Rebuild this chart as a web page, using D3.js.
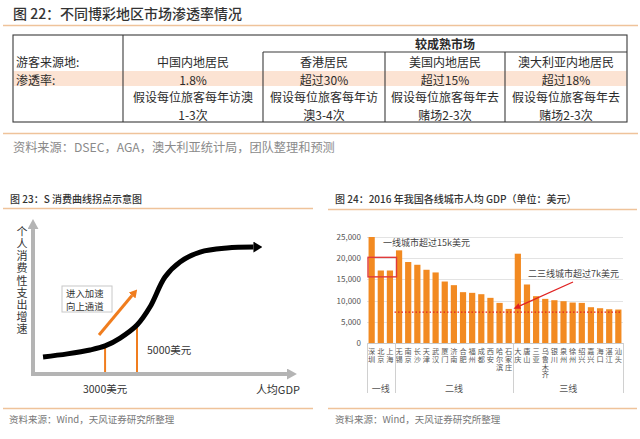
<!DOCTYPE html>
<html><head><meta charset="utf-8">
<script src="https://cdn.jsdelivr.net/npm/d3@7"></script>
<style>
html,body{margin:0;padding:0;background:#fff;}
svg text{font-family:"Noto Sans CJK SC","Noto Sans",sans-serif;}
.vt{writing-mode:vertical-rl;text-orientation:upright;}
</style></head>
<body><svg id="c" width="640" height="439"></svg>
<script>
// ---------- DATA ----------
const table1Title = "图 22：不同博彩地区市场渗透率情况";
const table1Group = "较成熟市场";
const rowLabels = ["游客来源地:", "渗透率:"];
const regions = ["中国内地居民", "香港居民", "美国内地居民", "澳大利亚内地居民"];
const penetration = ["1.8%", "超过30%", "超过15%", "超过18%"];
const notesLine1 = ["假设每位旅客每年访澳", "假设每位旅客每年访", "假设每位旅客每年去", "假设每位旅客每年去"];
const notesLine2 = ["1-3次", "澳3-4次", "赌场2-3次", "赌场2-3次"];
const table1Source = "资料来源：DSEC，AGA，澳大利亚统计局，团队整理和预测";

const fig23Title = "图 23：S 消费曲线拐点示意图";
const fig23YLabel = "个人消费性支出增速";
const fig23XLabel = "人均GDP";
// S-curve in schematic units (x: 0..10 income, y: 0..10 growth)
const sCurveX = [0.38, 1.30, 2.16, 2.73, 3.30, 3.94, 4.43, 5.00, 5.57, 6.33, 7.35, 8.35];
const sCurveY = [1.10, 1.30, 1.55, 1.81, 2.32, 3.16, 4.32, 6.26, 7.23, 7.87, 8.13, 8.19];
const thresholdX = [2.73, 3.94];            // 3000美元, 5000美元
const thresholdLabels = ["3000美元", "5000美元"];
const accelArrow = {x: [2.5, 3.94], y: [2.52, 5.45]};
const accelText = ["进入加速", "向上通道"];
const fig23Source = "资料来源：Wind，天风证券研究所整理";

const fig24Title = "图 24：2016 年我国各线城市人均 GDP（单位：美元）";
const cities = ["深圳","北京","上海",
  "无锡","南京","长沙","天津","武汉","厦门","济南","合肥","福州","成都","西安","哈尔滨","石家庄",
  "大庆","唐山","三亚","乌鲁木齐","银川","泉州","徐州","绍兴","嘉兴","海口","湛江","汕头"];
const gdpUSD = [25000,17100,17100,
  21850,19100,18450,17270,16640,14500,13640,11990,11830,11510,10650,9460,8040,
  21060,13800,11040,10410,10090,9860,9540,9460,8440,8200,7960,7890];
const tiers = ["一线","二线","三线"];
const tierCounts = [3, 13, 12];
const yTicks = [0, 5000, 10000, 15000, 20000, 25000];
const threshold23 = 7300;
const box1Range = [15600, 20200];
const note1 = "一线城市超过15k美元";
const note2 = "二三线城市超过7k美元";
const fig24Source = "资料来源：Wind，天风证券研究所整理";

// ---------- DRAW ----------
const svg = d3.select("#c");
const ORANGE_RULE = "#efc39a";
const TXT = "#2b2b2b";

// ===== Table (fig 22) =====
svg.append("text").attr("x", 13).attr("y", 13).attr("dominant-baseline","central")
  .attr("font-size", 14).attr("fill", "#333").attr("font-weight", 500).text(table1Title);
svg.append("line").attr("x1",3).attr("x2",638).attr("y1",25.5).attr("y2",25.5)
  .attr("stroke",ORANGE_RULE).attr("stroke-width",1.6);

const colEdges = [13, 123, 263, 385, 505, 627];
const tTop = 35, tGroup = 52, tPinkTop = 71, tPinkBot = 86, tBot = 122;
svg.append("rect").attr("x", colEdges[0]+0.5).attr("y", tPinkTop).attr("width", colEdges[5]-colEdges[0]-1)
  .attr("height", tPinkBot - tPinkTop).attr("fill", "#fce3d3");
const tg = svg.append("g").attr("stroke", "#3a3a3a").attr("stroke-width", 1.1);
tg.append("rect").attr("x", colEdges[0]).attr("y", tTop).attr("width", colEdges[5]-colEdges[0])
  .attr("height", tBot - tTop).attr("fill", "none");
tg.append("line").attr("x1", colEdges[1]).attr("x2", colEdges[1]).attr("y1", tTop).attr("y2", tBot);
[2,3,4].forEach(i => tg.append("line").attr("x1", colEdges[i]).attr("x2", colEdges[i]).attr("y1", tGroup).attr("y2", tBot));
tg.append("line").attr("x1", colEdges[2]).attr("x2", colEdges[5]).attr("y1", tGroup).attr("y2", tGroup);

const tfs = 12;
svg.append("text").attr("x", (colEdges[2]+colEdges[5])/2).attr("y", 43.5).attr("text-anchor","middle")
  .attr("dominant-baseline","central").attr("font-size", tfs).attr("font-weight", 700).attr("fill", TXT).text(table1Group);
const rowYs = [61.5, 79, 96.5, 114.5];
const leftCol = svg.append("text").attr("font-size", tfs).attr("fill", TXT);
rowLabels.forEach((t, k) => leftCol.append("tspan").attr("x", 16).attr("y", rowYs[k])
  .attr("dominant-baseline","central").text(t));
const colCenters = regions.map((d,i) => (colEdges[i+1] + colEdges[i+2]) / 2);
regions.forEach((r, i) => {
  const t = svg.append("text").attr("font-size", tfs).attr("fill", TXT).attr("text-anchor", "middle");
  [regions[i], penetration[i], notesLine1[i], notesLine2[i]].forEach((s, k) =>
    t.append("tspan").attr("x", colCenters[i]).attr("y", rowYs[k]).attr("dominant-baseline","central").text(s));
});
svg.append("line").attr("x1",3).attr("x2",638).attr("y1",133.5).attr("y2",133.5)
  .attr("stroke",ORANGE_RULE).attr("stroke-width",1.6);
svg.append("text").attr("x", 13).attr("y", 147).attr("dominant-baseline","central")
  .attr("font-size", 12.2).attr("fill", "#8a8a8a").text(table1Source);

// ===== Fig 23 =====
svg.append("text").attr("x", 10).attr("y", 198.5).attr("dominant-baseline","central")
  .attr("font-size", 10).attr("fill", "#333").attr("font-weight", 500).text(fig23Title);
svg.append("line").attr("x1",3).attr("x2",313).attr("y1",208.5).attr("y2",208.5).attr("stroke",ORANGE_RULE).attr("stroke-width",1.4);
svg.append("line").attr("x1",3).attr("x2",313).attr("y1",408.5).attr("y2",408.5).attr("stroke",ORANGE_RULE).attr("stroke-width",1.4);
svg.append("text").attr("x", 9).attr("y", 418.5).attr("dominant-baseline","central")
  .attr("font-size", 9.5).attr("fill", "#777").text(fig23Source);

const sx = d3.scaleLinear().domain([0, 10]).range([33, 297]);
const sy = d3.scaleLinear().domain([0, 10]).range([374, 219]);
const defs = svg.append("defs");
function marker(id, color, w, h) {
  defs.append("marker").attr("id", id).attr("markerUnits","userSpaceOnUse")
    .attr("markerWidth", w).attr("markerHeight", h).attr("refX", 0).attr("refY", h/2)
    .attr("orient","auto").attr("viewBox", `0 0 ${w} ${h}`)
    .append("path").attr("d", `M0,0L${w},${h/2}L0,${h}Z`).attr("fill", color);
}
marker("mGray", "#b4b4b4", 10, 11);
marker("mBlack", "#000", 9, 11);
marker("mOrange", "#f07d1e", 8, 9);
marker("mRed", "#e02222", 7, 6);

svg.append("line").attr("x1", sx(0)).attr("y1", sy(0)+2).attr("x2", sx(0)).attr("y2", sy(9.35))
  .attr("stroke","#b4b4b4").attr("stroke-width",4).attr("marker-end","url(#mGray)");
svg.append("line").attr("x1", sx(0)-2).attr("y1", sy(0)).attr("x2", sx(9.62)).attr("y2", sy(0))
  .attr("stroke","#b4b4b4").attr("stroke-width",4).attr("marker-end","url(#mGray)");
svg.append("text").attr("class","vt").attr("x", 22).attr("y", 226.5)
  .attr("font-size", 11).attr("letter-spacing", 1.1).attr("fill", "#333").text(fig23YLabel);
svg.append("text").attr("x", 300).attr("y", 388.5).attr("text-anchor","end").attr("dominant-baseline","central")
  .attr("font-size", 11).attr("fill", "#333").text(fig23XLabel);

thresholdX.forEach((tx) => {
  let yy = 0;
  for (let k = 0; k < sCurveX.length-1; k++) {
    if (tx >= sCurveX[k] && tx <= sCurveX[k+1]) {
      const t = (tx - sCurveX[k]) / (sCurveX[k+1]-sCurveX[k]);
      yy = sCurveY[k] + t*(sCurveY[k+1]-sCurveY[k]);
    }
  }
  svg.append("line").attr("x1", sx(tx)).attr("x2", sx(tx)).attr("y1", sy(yy)).attr("y2", sy(0)-2)
    .attr("stroke","#f07d1e").attr("stroke-width",2);
});
svg.append("text").attr("x", sx(thresholdX[0])).attr("y", 388.5).attr("text-anchor","middle").attr("dominant-baseline","central")
  .attr("font-size", 10.5).attr("fill", "#333").text(thresholdLabels[0]);
svg.append("text").attr("x", sx(thresholdX[1]) + 10).attr("y", 349).attr("dominant-baseline","central")
  .attr("font-size", 10.5).attr("fill", "#333").text(thresholdLabels[1]);

const sLine = d3.line().x((d,i) => sx(sCurveX[i])).y((d,i) => sy(sCurveY[i])).curve(d3.curveCatmullRom.alpha(0.5));
svg.append("path").attr("d", sLine(sCurveX)).attr("fill","none").attr("stroke","#000")
  .attr("stroke-width",5).attr("stroke-linecap","butt").attr("marker-end","url(#mBlack)");

svg.append("line").attr("x1", sx(accelArrow.x[0])).attr("y1", sy(accelArrow.y[0]))
  .attr("x2", sx(accelArrow.x[1]) - 5).attr("y2", sy(accelArrow.y[1]) + 6)
  .attr("stroke","#f07d1e").attr("stroke-width",3).attr("marker-end","url(#mOrange)");
svg.append("rect").attr("x", 62).attr("y", 286).attr("width", 50).attr("height", 26)
  .attr("fill","#fff").attr("stroke","#c8c8c8").attr("stroke-width",1);
const boxText = svg.append("text").attr("font-size", 9.4).attr("fill", "#333");
accelText.forEach((t, i) => boxText.append("tspan").attr("x", 66).attr("y", 292.6 + i*13.8)
  .attr("dominant-baseline","central").text(t));

// ===== Fig 24 =====
svg.append("text").attr("x", 335).attr("y", 198.5).attr("dominant-baseline","central")
  .attr("font-size", 10).attr("fill", "#333").attr("font-weight", 500).text(fig24Title);
svg.append("line").attr("x1",328).attr("x2",637).attr("y1",209.5).attr("y2",209.5).attr("stroke",ORANGE_RULE).attr("stroke-width",1.4);
svg.append("line").attr("x1",328).attr("x2",637).attr("y1",408.5).attr("y2",408.5).attr("stroke",ORANGE_RULE).attr("stroke-width",1.4);
svg.append("text").attr("x", 335).attr("y", 418.5).attr("dominant-baseline","central")
  .attr("font-size", 9.5).attr("fill", "#777").text(fig24Source);

const x = d3.scaleBand().domain(cities).range([367, 623]).paddingInner(0.32).paddingOuter(0.17);
const y = d3.scaleLinear().domain([0, 25000]).range([343, 237]);

svg.append("g").selectAll("line").data(yTicks).join("line")
  .attr("x1", 367).attr("x2", 623).attr("y1", d => Math.round(y(d))+0.5).attr("y2", d => Math.round(y(d))+0.5)
  .attr("stroke", d => d === 0 ? "#c8c8c8" : "#e3e3e3").attr("stroke-width", 1);
const yAxis = d3.axisLeft(y).tickValues(yTicks).tickFormat(d3.format(",")).tickSize(0).tickPadding(0);
const ya = svg.append("g").attr("transform", "translate(361,0)").call(yAxis);
ya.select(".domain").remove();
ya.selectAll("text").attr("font-size", 8).attr("fill", "#555").attr("font-family", '"Noto Sans","Noto Sans CJK SC",sans-serif');

svg.append("g").selectAll("rect").data(cities).join("rect")
  .attr("x", d => x(d)).attr("width", x.bandwidth())
  .attr("y", (d,i) => y(gdpUSD[i])).attr("height", (d,i) => y(0) - y(gdpUSD[i]))
  .attr("fill", "#f28a21");

svg.append("g").selectAll("text").data(cities).join("text")
  .attr("class","vt").attr("x", d => x(d) + x.bandwidth()/2).attr("y", 348)
  .attr("font-size", 7.2).attr("letter-spacing", 0.4).attr("fill", "#555").text(d => d);

let start = 0;
const sepX = [x(cities[0]) - x.step()*x.paddingOuter()];
tierCounts.forEach((n, k) => {
  const first = cities[start], last = cities[start + n - 1];
  const x0 = x(first) - x.step()*x.paddingInner()/2 - (k===0 ? x.step()*(x.paddingOuter()-x.paddingInner()/2) : 0);
  const x1 = x(last) + x.bandwidth() + x.step()*x.paddingInner()/2 + (k===tierCounts.length-1 ? x.step()*(x.paddingOuter()-x.paddingInner()/2) : 0);
  sepX.push(x1);
  svg.append("text").attr("x", (x0 + x1)/2).attr("y", 388).attr("text-anchor","middle").attr("dominant-baseline","central")
    .attr("font-size", 9).attr("fill", "#555").text(tiers[k]);
  start += n;
});
svg.append("g").selectAll("line").data(sepX).join("line")
  .attr("x1", d => Math.round(d)+0.5).attr("x2", d => Math.round(d)+0.5).attr("y1", 343).attr("y2", 393)
  .attr("stroke", "#d0d0d0").attr("stroke-width", 1);

svg.append("line").attr("x1", sepX[1]).attr("x2", 622).attr("y1", y(threshold23)).attr("y2", y(threshold23))
  .attr("stroke", "#e02222").attr("stroke-width", 1.3).attr("stroke-dasharray", "1.5,2");
svg.append("rect").attr("x", sepX[0] + 1).attr("y", y(box1Range[1]))
  .attr("width", sepX[1] - sepX[0] + 1).attr("height", y(box1Range[0]) - y(box1Range[1]))
  .attr("fill", "none").attr("stroke", "#e03a3a").attr("stroke-width", 1.4);
svg.append("text").attr("x", 383).attr("y", 242).attr("dominant-baseline","central")
  .attr("font-size", 9).attr("fill", "#444").text(note1);
svg.append("text").attr("x", 528).attr("y", 273).attr("dominant-baseline","central")
  .attr("font-size", 9).attr("fill", "#444").text(note2);
const tipX = x(cities[15]) + x.bandwidth() + 2, tipY = y(gdpUSD[15]);
svg.append("line").attr("x1", 573).attr("y1", 282).attr("x2", tipX + 6).attr("y2", tipY - 3)
  .attr("stroke", "#e02222").attr("stroke-width", 1.3).attr("marker-end", "url(#mRed)");
</script></body></html>
